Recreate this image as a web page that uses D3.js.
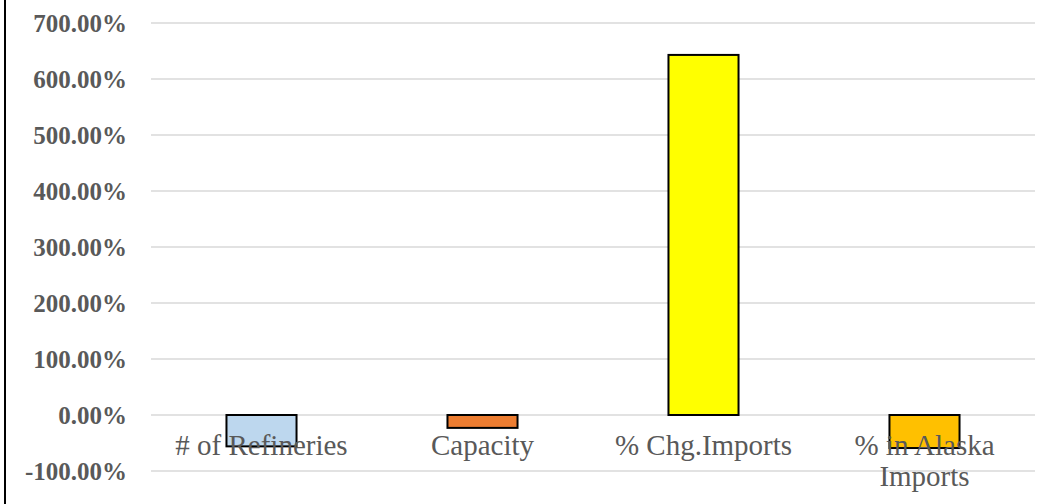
<!DOCTYPE html>
<html>
<head>
<meta charset="utf-8">
<script src="https://cdn.jsdelivr.net/npm/d3@7"></script>
<style>
  html, body { margin: 0; padding: 0; background: #fff; }
  svg { display: block; }
</style>
</head>
<body>
<svg id="chart" width="1052" height="504"></svg>
<script>
const categories = ["# of Refineries", "Capacity", "% Chg.Imports", "% in Alaska Imports"];
const categoryLines = [["# of Refineries"], ["Capacity"], ["% Chg.Imports"], ["% in Alaska", "Imports"]];
const values = [-56, -23, 643, -59];
const colors = ["#BDD7EE", "#ED7D31", "#FFFF00", "#FFC000"];
const yTicks = [-100, 0, 100, 200, 300, 400, 500, 600, 700];

const svg = d3.select("#chart");
const plotLeft = 151, plotRight = 1035;

const x = d3.scaleBand().domain(categories).range([plotLeft, plotRight]).paddingInner(0.683).paddingOuter(0.3415);
const y = d3.scaleLinear().domain([-100, 700]).range([471, 23]);

// outer left border
svg.append("line").attr("x1", 5).attr("x2", 5).attr("y1", 0).attr("y2", 504)
  .attr("stroke", "#000").attr("stroke-width", 2);

// gridlines
svg.append("g").selectAll("line").data(yTicks).join("line")
  .attr("x1", plotLeft).attr("x2", plotRight)
  .attr("y1", d => y(d)).attr("y2", d => y(d))
  .attr("stroke", "#d9d9d9").attr("stroke-width", 1.5);

// y labels
const fmt = d => d3.format(".2f")(d).replace("\u2212", "-") + "%";
svg.append("g").selectAll("text").data(yTicks).join("text")
  .attr("x", 127).attr("y", d => y(d))
  .attr("dy", "0.35em")
  .attr("text-anchor", "end")
  .attr("font-family", "Liberation Serif, serif")
  .attr("font-weight", "bold")
  .attr("font-size", 25)
  .attr("fill", "#595959")
  .text(fmt);

// bars
svg.append("g").selectAll("rect").data(values).join("rect")
  .attr("x", (d, i) => x(categories[i]))
  .attr("width", x.bandwidth())
  .attr("y", d => y(Math.max(0, d)))
  .attr("height", d => Math.abs(y(d) - y(0)))
  .attr("fill", (d, i) => colors[i])
  .attr("stroke", "#000").attr("stroke-width", 2);

// category labels
const lab = svg.append("g").selectAll("text").data(categories).join("text")
  .attr("text-anchor", "middle")
  .attr("font-family", "Liberation Serif, serif")
  .attr("font-size", 29)
  .attr("fill", "#595959");
lab.each(function(d, i) {
  const t = d3.select(this);
  const cx = x(d) + x.bandwidth() / 2;
  categoryLines[i].forEach((line, j) => {
    t.append("tspan").attr("x", cx).attr("y", 455 + j * 31).text(line);
  });
});
</script>
</body>
</html>
